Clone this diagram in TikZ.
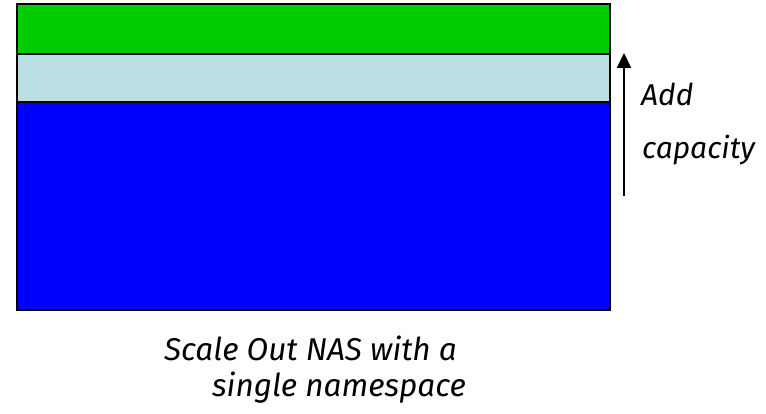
\documentclass[tikz,border=0pt]{standalone}
\usepackage{fontspec}
\setmainfont{Fira Sans}
\usetikzlibrary{arrows.meta}
\definecolor{tiergreen}{RGB}{0,204,0}
\definecolor{tierpale}{RGB}{187,224,227}
\definecolor{tierblue}{RGB}{0,0,255}
\tikzset{
  tier/.style={draw=black, line width=2pt, inner sep=0pt, minimum width=593pt, anchor=north west},
  caption/.style={font=\itshape\fontsize{30}{36}\selectfont, inner sep=0pt, anchor=base west},
  bigcaption/.style={caption, font=\itshape\fontsize{31.5}{38}\selectfont},
  growarrow/.style={line width=2pt, -{Triangle[width=14pt,length=15pt]}}
}
\begin{document}
\begin{tikzpicture}[x=1pt,y=-1pt]
  \useasboundingbox (0,0) rectangle (766,414);
  % storage tiers, stacked
  \node[tier, fill=tierblue,  minimum height=208pt] (base)  at (16,101) {};
  \node[tier, fill=tierpale,  minimum height=48pt]  (mid)   at (16,53)  {};
  \node[tier, fill=tiergreen, minimum height=50pt]  (top)   at (16,3)   {};
  % growth arrow
  \coordinate (arrowfoot) at (624,196);
  \coordinate (arrowhead) at (624,53);
  \draw[growarrow] (arrowfoot) -- (arrowhead);
  % labels
  \node[caption] (addlbl) at (641,106) {Add};
  \node[caption] (caplbl) at (642,159) {capacity};
  \node[bigcaption] (line1) at (164,360) {Scale Out NAS with a};
  \node[bigcaption] (line2) at (212,396) {single namespace};
\end{tikzpicture}
\end{document}
